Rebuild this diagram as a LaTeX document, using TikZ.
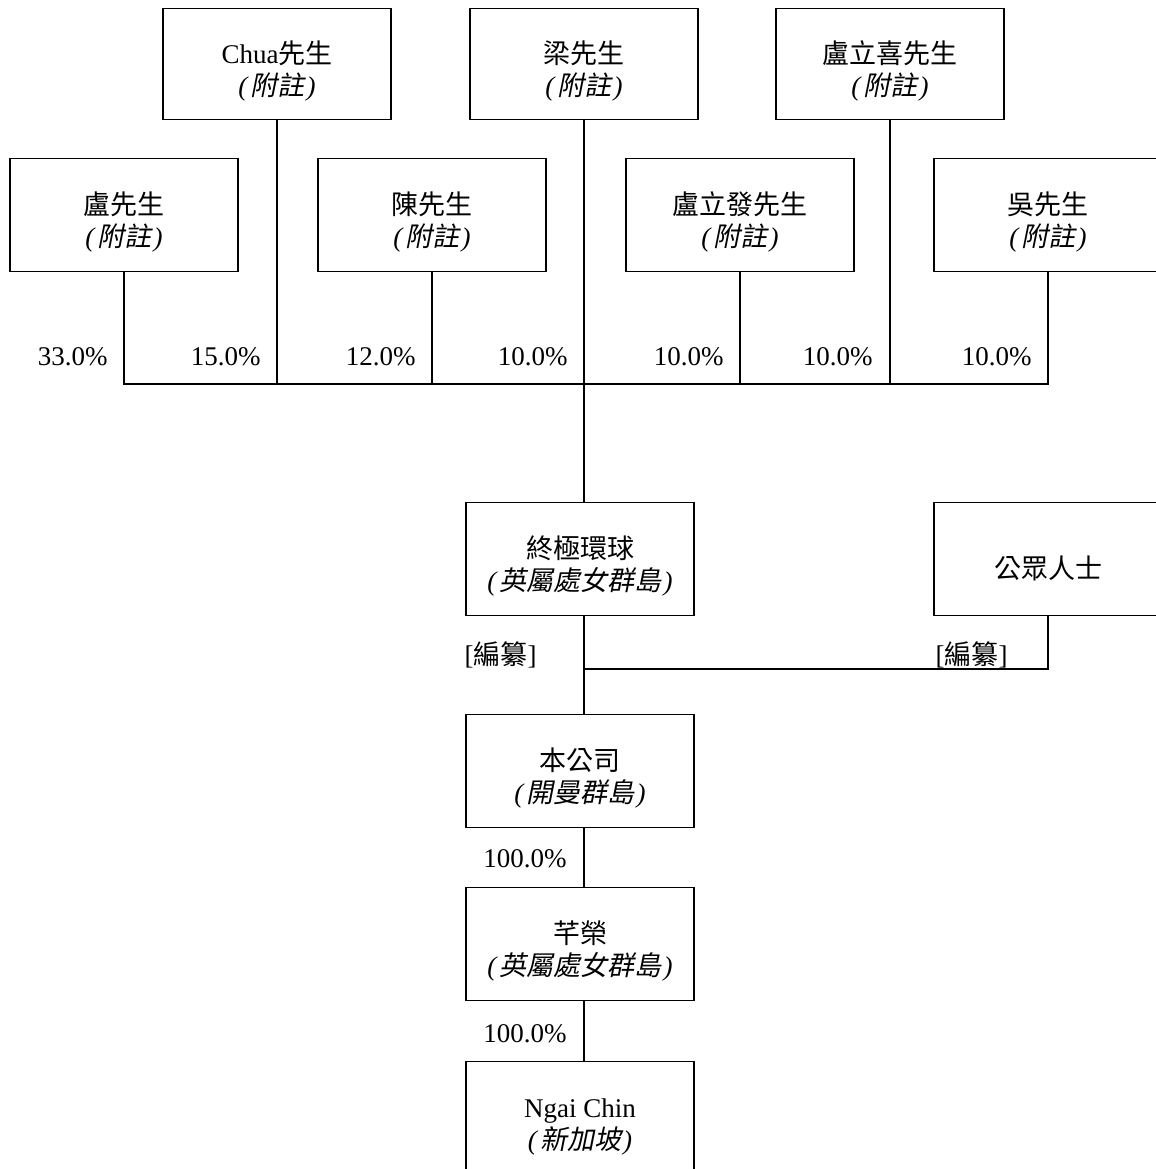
\documentclass[tikz,border=0pt]{standalone}
\usepackage{fontspec}
\setmainfont{Liberation Serif}
\newfontfamily\cjk{Noto Sans CJK TC}
\newfontfamily\cjksl[FakeSlant=0.2]{Noto Sans CJK TC}
\usetikzlibrary{calc}
\newcommand{\boxw}{114pt}
\newcommand{\boxh}{56.5pt}
\newcommand{\drop}{-4.5pt}
\newcommand{\fnote}[1]{\textit{(}\kern1pt{\cjksl #1}\kern1pt\textit{)}}
\newcommand{\holdtext}[2]{\raisebox{\drop}[\height][\depth]{\begin{tabular}{@{}c@{}}#1\\#2\end{tabular}}}
\newcommand{\holdone}[1]{\raisebox{\drop}[\height][\depth]{#1}}

\begin{document}
\begin{tikzpicture}[x=0.5pt,y=-0.5pt]
        \tikzset{holder/.style={draw, line width=0.6pt, minimum width=\boxw, minimum height=\boxh,
                    inner sep=0pt, align=center, font=\fontsize{13.5}{15.5}\selectfont},
                 pct/.style={anchor=east, inner sep=0pt, font=\fontsize{13.5}{15.5}\selectfont},
                 link/.style={line width=0.6pt}}
        \useasboundingbox (0,0) rectangle (1156,1169);
        \clip (0,0) rectangle (1156,1169);

        % shareholders
        \node[holder, minimum height=55.5pt] (chua)   at (277,64)  {\holdtext{Chua{\cjk 先生}}{\fnote{附註}}};
        \node[holder, minimum height=55.5pt] (liang)  at (584,64)  {\holdtext{\cjk 梁先生}{\fnote{附註}}};
        \node[holder, minimum height=55.5pt] (lulixi) at (890,64)  {\holdtext{\cjk 盧立喜先生}{\fnote{附註}}};
        \node[holder] (lu)     at (124,215)  {\holdtext{\cjk 盧先生}{\fnote{附註}}};
        \node[holder] (chen)   at (432,215)  {\holdtext{\cjk 陳先生}{\fnote{附註}}};
        \node[holder] (lulifa) at (740,215)  {\holdtext{\cjk 盧立發先生}{\fnote{附註}}};
        \node[holder] (wu)     at (1048,215) {\holdtext{\cjk 吳先生}{\fnote{附註}}};

        % group
        \node[holder] (zj)   at (580,559)  {\holdtext{\cjk 終極環球}{\fnote{英屬處女群島}}};
        \node[holder] (pub)  at (1048,559) {\holdone{\cjk 公眾人士}};
        \node[holder] (bgs)  at (580,771)  {\holdtext{\cjk 本公司}{\fnote{開曼群島}}};
        \node[holder] (qr)   at (580,944)  {\holdtext{\cjk 芊榮}{\fnote{英屬處女群島}}};
        \node[holder] (ngai) at (580,1118) {\holdtext{Ngai Chin}{\fnote{新加坡}}};

        \coordinate (bar) at (584,384);
        \coordinate (merge) at (584,669);

        % shareholding bar
        \draw[link] (lu.south) -- (lu.south |- bar) -- (wu.south |- bar) -- (wu.south);
        \draw[link] (chua.south) -- (chua.south |- bar);
        \draw[link] (chen.south) -- (chen.south |- bar);
        \draw[link] (lulifa.south) -- (lulifa.south |- bar);
        \draw[link] (lulixi.south) -- (lulixi.south |- bar);
        \draw[link] (liang.south) -- (zj.north -| liang.south);

        \draw[link] (zj.south -| merge) -- (bgs.north -| merge);
        \draw[link] (pub.south) |- (merge);
        \draw[link] (bgs.south -| merge) -- (qr.north -| merge);
        \draw[link] (qr.south -| merge) -- (ngai.north -| merge);

        % percentages
        \node[pct] (p1) at (108,357)  {33.0\%};
        \node[pct] (p2) at (261,357)  {15.0\%};
        \node[pct] (p3) at (416,357)  {12.0\%};
        \node[pct] (p4) at (568,357)  {10.0\%};
        \node[pct] (p5) at (724,357)  {10.0\%};
        \node[pct] (p6) at (873,357)  {10.0\%};
        \node[pct] (p7) at (1032,357) {10.0\%};
        \node[pct] (p8) at (537,655)  {[{\cjk 編纂}]};
        \node[pct] (p9) at (1008,655) {[{\cjk 編纂}]};
        \node[pct] (p10) at (567,859)  {100.0\%};
        \node[pct] (p11) at (567,1034) {100.0\%};
\end{tikzpicture}
\end{document}
